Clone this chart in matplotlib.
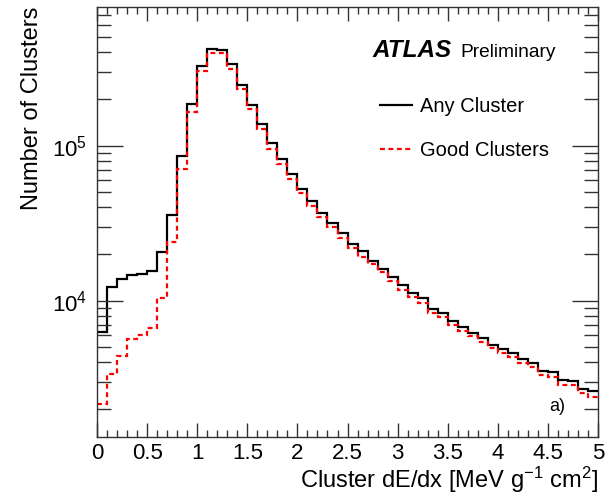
import numpy as np
import matplotlib
matplotlib.use("Agg")
import matplotlib.pyplot as plt
from matplotlib.ticker import LogLocator, NullFormatter, MultipleLocator
from matplotlib.lines import Line2D

plt.rcParams['font.family'] = ['Liberation Sans', 'DejaVu Sans']
plt.rcParams['mathtext.fontset'] = 'custom'
plt.rcParams['mathtext.rm'] = 'Liberation Sans'
plt.rcParams['mathtext.it'] = 'Liberation Sans:italic'
plt.rcParams['mathtext.bf'] = 'Liberation Sans:bold'

# Histogram binning: 50 bins of 0.1 MeV g^-1 cm^2
bin_edges = np.round(np.arange(0, 5.0001, 0.1), 2)

any_cluster = [
    6300, 12300, 13700, 14600, 14900, 15600, 20500, 35900, 86000, 185000,
    326000, 421000, 414000, 335000, 248000, 182000, 138000, 103600, 81700, 65600,
    52800, 44000, 37000, 31800, 27200, 23200, 20900, 18100, 16000, 14300,
    12600, 11200, 10400, 8800, 8300, 7430, 6800, 6220, 5770, 5180,
    4880, 4580, 4190, 3950, 3530, 3450, 3080, 3050, 2710, 2600,
]

good_clusters = [
    2150, 3380, 4420, 5690, 6010, 6640, 10450, 24000, 70500, 165000,
    305000, 394000, 394000, 312000, 232000, 172000, 127500, 95700, 75800, 60600,
    49300, 41000, 34500, 30000, 25300, 21800, 19200, 17300, 15200, 13300,
    11700, 10600, 9620, 8290, 7890, 6970, 6400, 5910, 5440, 4930,
    4620, 4350, 3950, 3750, 3300, 3240, 2860, 2860, 2550, 2400,
]

W, H = 609, 496
fig = plt.figure(figsize=(W / 100, H / 100), dpi=100)
ax = fig.add_axes([0.1593, 0.119, 0.8227, 0.8669])

dash = (0, (2.2, 1.6))
ax.stairs(any_cluster, bin_edges, baseline=None, color='black', lw=1.6)
ax.stairs(good_clusters, bin_edges, baseline=None, color='#ff0000', lw=1.6,
          linestyle=dash)

ax.set_yscale('log')
ax.set_xlim(0, 5)
ax.set_ylim(1320, 7.85e5)

ax.xaxis.set_minor_locator(MultipleLocator(0.1))
ax.set_xticks(np.arange(0, 5.01, 0.5))
ax.set_xticklabels(['0', '0.5', '1', '1.5', '2', '2.5', '3', '3.5', '4', '4.5', '5'])
ax.yaxis.set_major_locator(LogLocator(base=10, numticks=10))
ax.yaxis.set_minor_locator(LogLocator(base=10, subs=np.arange(2, 10), numticks=20))
ax.yaxis.set_minor_formatter(NullFormatter())

ax.tick_params(axis='both', which='both', direction='in', top=True, right=True,
               labelsize=16, width=1.0, color='#333333')
ax.tick_params(axis='x', which='major', length=10, pad=4)
ax.tick_params(axis='x', which='minor', length=5)
ax.tick_params(axis='y', which='major', length=19, pad=7)
ax.tick_params(axis='y', which='minor', length=10)
for s in ax.spines.values():
    s.set_linewidth(1.0)
    s.set_color('#333333')

xl = ax.set_xlabel(r'Cluster dE/dx [MeV g$^{\mathregular{-1}}$ cm$^{\mathregular{2}}$]',
                   fontsize=17, loc='right')
ax.xaxis.set_label_coords(1.0, -0.1186)
xl.set_verticalalignment('baseline')
ax.set_ylabel('Number of Clusters', fontsize=17, loc='top')
ax.yaxis.set_label_coords(-0.108, 1.0)

# Experiment label
ax.text(373 / W, 1 - 57 / H, 'ATLAS', transform=fig.transFigure, fontsize=17.5,
        fontweight='bold', fontstyle='italic', va='baseline', ha='left')
ax.text(460 / W, 1 - 57 / H, 'Preliminary', transform=fig.transFigure,
        fontsize=13.8, va='baseline', ha='left')

handles = [Line2D([], [], color='black', lw=1.6),
           Line2D([], [], color='#ff0000', lw=1.6, linestyle=dash)]
ax.legend(handles, ['Any Cluster', 'Good Clusters'], loc='upper left',
          bbox_to_anchor=(0.565, 0.79), frameon=False, fontsize=14.5,
          handlelength=1.6, handletextpad=0.4, labelspacing=1.25,
          borderpad=0, borderaxespad=0)

ax.text(0.903, 0.072, 'a)', transform=ax.transAxes, fontsize=13,
        ha='left', va='center')

fig.savefig('out.png', dpi=100)
